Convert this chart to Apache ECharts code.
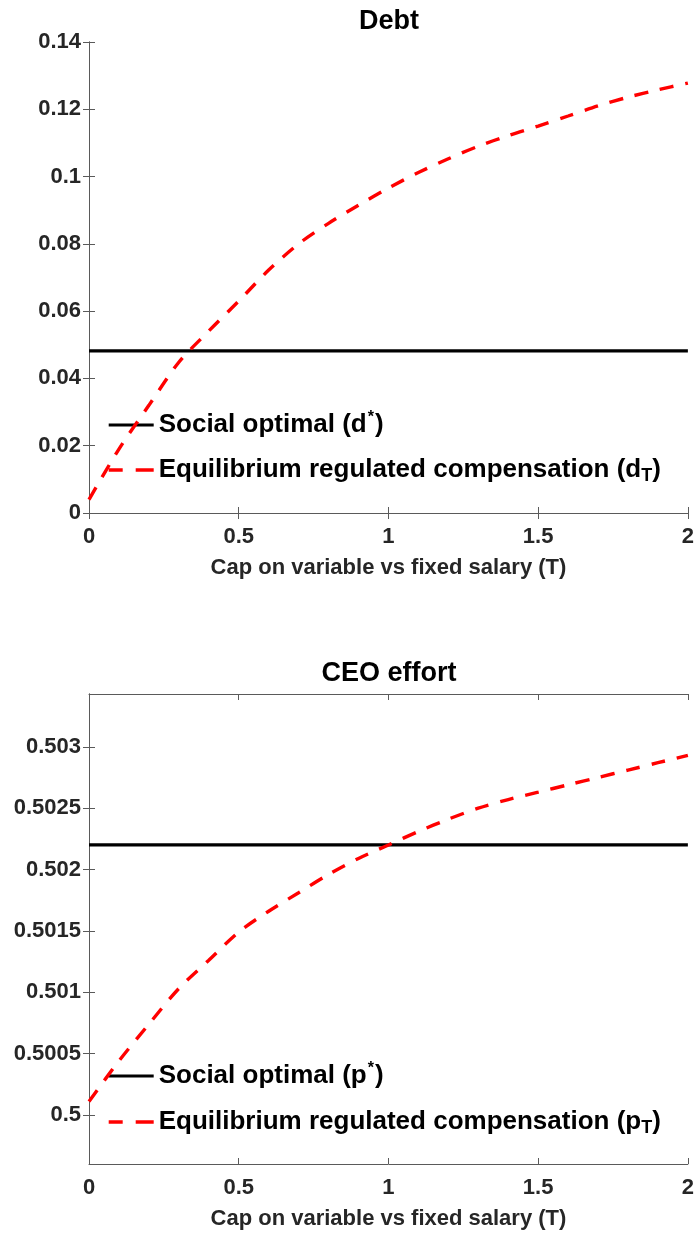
<!DOCTYPE html>
<html>
<head>
<meta charset="utf-8">
<script src="https://cdn.jsdelivr.net/npm/echarts@6/dist/echarts.min.js"></script>
<style>
html,body{margin:0;padding:0;background:#fff;}
#chart{width:697px;height:1235px;}
</style>
</head>
<body>
<div id="chart"></div>
<script>
// ---- data ----
const T_VALUES = [0, 0.1, 0.2, 0.3, 0.4, 0.5, 0.6, 0.7, 0.8, 0.9, 1.0, 1.1, 1.2, 1.3, 1.4, 1.5, 1.6, 1.7, 1.8, 1.9, 2.0];
const DEBT_EQ = [0.0040, 0.0190, 0.0320, 0.0448, 0.0541, 0.0630, 0.0722, 0.0800, 0.0861, 0.0915, 0.0966, 0.1012, 0.1053, 0.1090, 0.1122, 0.1150, 0.1180, 0.1210, 0.1236, 0.1258, 0.1278];
const DEBT_OPT = 0.0482;
const EFFORT_EQ = [0.50011, 0.50044, 0.50074, 0.50103, 0.50126, 0.50149, 0.50166, 0.50181, 0.50196, 0.50209, 0.50220, 0.50231, 0.50241, 0.50250, 0.50257, 0.50263, 0.50269, 0.50275, 0.50281, 0.50287, 0.50293];
const EFFORT_OPT = 0.50220;
const X_TICKS = [0, 0.5, 1, 1.5, 2];
const DEBT_Y_TICKS = [0, 0.02, 0.04, 0.06, 0.08, 0.1, 0.12, 0.14];
const EFFORT_Y_TICKS = [0.5, 0.5005, 0.501, 0.5015, 0.502, 0.5025, 0.503];
const TITLES = ['Debt', 'CEO effort'];
const X_NAME = 'Cap on variable vs fixed salary (T)';
const NAMES = ['Social optimal (d*)', 'Equilibrium regulated compensation (dT)', 'Social optimal (p*)', 'Equilibrium regulated compensation (pT)'];

const FONT = "'Liberation Sans', Arial, Helvetica, sans-serif";
const AXC = '#5a5a5a';
const TXT = '#262626';
const fmt = v => String(+(+v).toFixed(5));

const grids = [
  {left: 89, width: 600, top: 42, height: 471},
  {left: 89, width: 600, top: 694, height: 470}
];

function xAxes(gi) {
  const base = {
    type: 'value', gridIndex: gi, min: 0, max: 2,
    splitLine: {show: false},
    axisLine: {show: true, lineStyle: {color: AXC, width: 1}},
    axisTick: {show: true, inside: true, length: 6, lineStyle: {color: AXC}, customValues: X_TICKS}
  };
  return [
    Object.assign({}, base, {
      position: 'bottom',
      axisLabel: {show: true, margin: 13, fontSize: 22, fontWeight: 'bold', color: TXT, fontFamily: FONT, formatter: fmt, customValues: X_TICKS},
      name: X_NAME, nameLocation: 'middle', nameGap: 44,
      nameTextStyle: {fontSize: 22, fontWeight: 'bold', color: TXT, fontFamily: FONT}
    }),
    Object.assign({}, base, {position: 'top', axisLabel: {show: false}})
  ];
}

function yAxes(gi, min, max, ticks) {
  const base = {
    type: 'value', gridIndex: gi, min: min, max: max,
    splitLine: {show: false},
    axisLine: {show: true, lineStyle: {color: AXC, width: 1}},
    axisTick: {show: true, inside: true, length: 6, lineStyle: {color: AXC}, customValues: ticks}
  };
  return [
    Object.assign({}, base, {
      position: 'left',
      axisLabel: {show: true, margin: 8, fontSize: 22, fontWeight: 'bold', color: TXT, fontFamily: FONT, formatter: fmt, customValues: ticks}
    }),
    Object.assign({}, base, {position: 'right', axisLabel: {show: false}})
  ];
}

const pairs = arr => T_VALUES.map((t, i) => [t, arr[i]]);

const rich = {
  n: {fontSize: 26, fontWeight: 'bold', color: '#000', fontFamily: FONT, height: 30, lineHeight: 30},
  sup: {fontSize: 16, fontWeight: 'bold', color: '#000', fontFamily: FONT, verticalAlign: 'top', lineHeight: 14, padding: [0, 1, 0, 1]},
  sub: {fontSize: 18, fontWeight: 'bold', color: '#000', fontFamily: FONT, verticalAlign: 'bottom', lineHeight: 16}
};
const legendFmt = {};
legendFmt[NAMES[0]] = '{n|Social optimal (d}{sup|*}{n|)}';
legendFmt[NAMES[1]] = '{n|Equilibrium regulated compensation (d}{sub|T}{n|)}';
legendFmt[NAMES[2]] = '{n|Social optimal (p}{sup|*}{n|)}';
legendFmt[NAMES[3]] = '{n|Equilibrium regulated compensation (p}{sub|T}{n|)}';

function legend(names, top, gap) {
  return {
    data: [
      {name: names[0], lineStyle: {width: 3.2, type: 'solid', color: '#000'}},
      {name: names[1], lineStyle: {width: 3.4, type: [14, 13, 18], color: '#ff0000'}}
    ],
    orient: 'vertical', left: 102, top: top, padding: 5, itemWidth: 45, itemHeight: 14, itemGap: gap,
    selectedMode: false,
    itemStyle: {opacity: 0, borderWidth: 0},
    textStyle: {rich: rich},
    formatter: n => legendFmt[n]
  };
}

function series(nameOpt, nameEq, xi, yi, opt, eq) {
  return [
    {name: nameOpt, type: 'line', xAxisIndex: xi, yAxisIndex: yi, data: [[0, opt], [2, opt]], symbol: 'none',
     lineStyle: {color: '#000', width: 3.2}, itemStyle: {color: '#000'}, z: 3, silent: true},
    {name: nameEq, type: 'line', xAxisIndex: xi, yAxisIndex: yi, data: pairs(eq), symbol: 'none', smooth: 0.3,
     lineStyle: {color: '#ff0000', width: 3.4, type: [14, 12]}, itemStyle: {color: '#ff0000'}, z: 4, silent: true}
  ];
}

const chart = echarts.init(document.getElementById('chart'), null, {renderer: 'canvas'});
chart.setOption({
  animation: false,
  backgroundColor: '#fff',
  grid: grids,
  xAxis: xAxes(0).concat(xAxes(1)),
  yAxis: yAxes(0, 0, 0.14, DEBT_Y_TICKS).concat(yAxes(1, 0.4996, 0.50343, EFFORT_Y_TICKS)),
  legend: [legend([NAMES[0], NAMES[1]], 405, 15), legend([NAMES[2], NAMES[3]], 1056, 16)],
  series: series(NAMES[0], NAMES[1], 0, 0, DEBT_OPT, DEBT_EQ).concat(series(NAMES[2], NAMES[3], 2, 2, EFFORT_OPT, EFFORT_EQ)),
  graphic: [
    {type: 'text', x: 389, y: 22, style: {text: TITLES[0], font: "bold 27px " + FONT, fill: '#000', textAlign: 'center', textVerticalAlign: 'middle'}},
    {type: 'text', x: 389, y: 674, style: {text: TITLES[1], font: "bold 27px " + FONT, fill: '#000', textAlign: 'center', textVerticalAlign: 'middle'}}
  ]
});
</script>
</body>
</html>
